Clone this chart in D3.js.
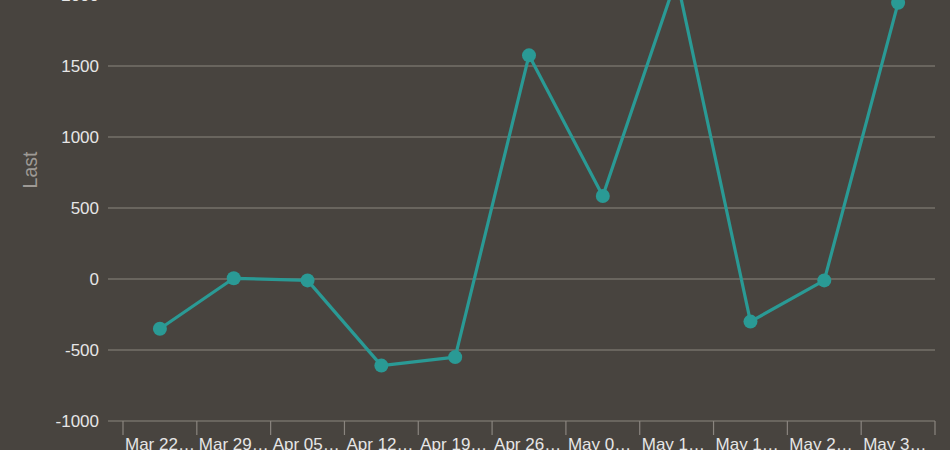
<!DOCTYPE html>
<html>
<head>
<meta charset="utf-8">
<script src="https://cdn.jsdelivr.net/npm/d3@7"></script>
<style>
  html, body { margin: 0; padding: 0; background: #48443f; }
  svg { display: block; }
  text { font-family: "Liberation Sans", Arial, sans-serif; }
</style>
</head>
<body>
<svg id="chart" width="950" height="450"></svg>
<script>
const categories = ["Mar 22, 2020", "Mar 29, 2020", "Apr 05, 2020", "Apr 12, 2020", "Apr 19, 2020",
  "Apr 26, 2020", "May 03, 2020", "May 10, 2020", "May 17, 2020", "May 24, 2020", "May 31, 2020"];
const lastValues = [-350, 5, -10, -610, -550, 1575, 585, 2120, -300, -10, 1945];
const yTicks = [-1000, -500, 0, 500, 1000, 1500, 2000];
const yLabel = "Last";

const svg = d3.select("#chart");
svg.append("rect").attr("width", 950).attr("height", 450).attr("fill", "#48443f");

const gridLeft = 108, plotLeft = 123, plotRight = 935;
const y = d3.scaleLinear().domain([-1000, 2000]).range([421, -5]);
const x = d3.scaleBand().domain(categories).range([plotLeft, plotRight]).padding(0);

// gridlines
svg.append("g").selectAll("line").data(yTicks).join("line")
  .attr("x1", gridLeft).attr("x2", plotRight)
  .attr("y1", d => y(d)).attr("y2", d => y(d))
  .attr("stroke", "#8a857f").attr("stroke-width", 1.2);

// y tick labels
svg.append("g").selectAll("text").data(yTicks).join("text")
  .attr("x", 99).attr("y", d => y(d)).attr("dy", "0.35em")
  .attr("text-anchor", "end").attr("fill", "#e6e6e6")
  .attr("font-size", 17).text(d => d);

// y axis label
svg.append("text")
  .attr("transform", "translate(37,170) rotate(-90)")
  .attr("text-anchor", "middle").attr("fill", "#9e9a95")
  .attr("font-size", 19.5).text(yLabel);

// x axis ticks at band edges
const edges = categories.map(c => x(c)).concat([plotRight]);
svg.append("g").selectAll("line").data(edges).join("line")
  .attr("x1", d => d).attr("x2", d => d)
  .attr("y1", 421).attr("y2", 435)
  .attr("stroke", "#8a857f").attr("stroke-width", 1.2);

// x labels, truncated to fit
const maxW = 71;
svg.append("g").selectAll("text").data(categories).join("text")
  .attr("x", d => x(d) + 2).attr("y", 450)
  .attr("fill", "#e6e6e6").attr("font-size", 17)
  .text(d => d)
  .each(function(d) {
    const el = d3.select(this);
    let s = d;
    if (this.getComputedTextLength() <= maxW) return;
    while (s.length > 1) {
      s = s.slice(0, -1).trimEnd();
      el.text(s + "\u2026");
      if (this.getComputedTextLength() <= maxW) break;
    }
  });

// line
const data = categories.map((c, i) => ({c, v: lastValues[i]}));
const line = d3.line().x(d => x(d.c) + x.bandwidth() / 2).y(d => y(d.v));
svg.append("path").datum(data)
  .attr("d", line).attr("fill", "none")
  .attr("stroke", "#2a9a95").attr("stroke-width", 3.2)
  .attr("stroke-linejoin", "round");

svg.append("g").selectAll("circle").data(data).join("circle")
  .attr("cx", d => x(d.c) + x.bandwidth() / 2).attr("cy", d => y(d.v))
  .attr("r", 7).attr("fill", "#2a9a95");
</script>
</body>
</html>
